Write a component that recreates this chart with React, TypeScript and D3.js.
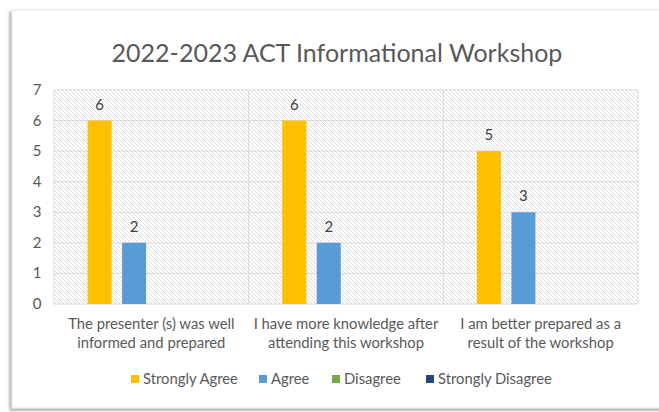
import React from "react";
import * as d3 from "d3";

const categories: string[][] = [
  ["The presenter (s) was well", "informed and prepared"],
  ["I have more knowledge after", "attending this workshop"],
  ["I am better prepared as a", "result of the workshop"],
];
const seriesNames = ["Strongly Agree", "Agree", "Disagree", "Strongly Disagree"];
const stronglyAgree = [6, 6, 5];
const agree = [2, 2, 3];
const disagree = [0, 0, 0];
const stronglyDisagree = [0, 0, 0];
const seriesColors = ["#FFC000", "#5B9BD5", "#70AD47", "#264478"];
const yTicks = [0, 1, 2, 3, 4, 5, 6, 7];
const title = "2022-2023 ACT Informational Workshop";

const W = 659;
const H = 412;
const FONT = "Lato, 'Open Sans', sans-serif";

export default function App() {
  const values = [stronglyAgree, agree, disagree, stronglyDisagree];
  const plot = { left: 54, right: 638, top: 90, bottom: 304 };
  const x = d3
    .scaleBand<number>()
    .domain(categories.map((_, i) => i))
    .range([plot.left, plot.right])
    .padding(0);
  const xs = d3
    .scaleBand<number>()
    .domain(seriesNames.map((_, i) => i))
    .range([0, x.bandwidth()])
    .paddingInner(0.304)
    .paddingOuter(0.974);
  const y = d3.scaleLinear().domain([0, 7]).range([plot.bottom, plot.top]);

  const legendX = [131, 259, 332, 426];

  return (
    <svg
      width={W}
      height={H}
      style={{ position: "absolute", left: 0, top: 0, background: "#fff" }}
      fontFamily={FONT}
    >
      <defs>
        <pattern id="hatch" width="4" height="4" patternUnits="userSpaceOnUse">
          <rect width="4" height="4" fill="#ffffff" />
          <path d="M-1,-1 L5,5 M-1,3 L1,5 M3,-1 L5,1" stroke="#d6d6d6" strokeWidth="0.85" />
        </pattern>
        <filter id="shadow" x="-5%" y="-5%" width="110%" height="110%">
          <feDropShadow dx="-2" dy="2" stdDeviation="1.6" floodColor="#000" floodOpacity="0.35" />
        </filter>
      </defs>
      <rect x={12} y={10} width={652} height={398} fill="#fff" stroke="#e3e3e3" filter="url(#shadow)" />
      <text x={337} y={62} textAnchor="middle" fontSize={25} fill="#595959">
        {title}
      </text>
      <rect
        x={plot.left}
        y={plot.top}
        width={plot.right - plot.left}
        height={plot.bottom - plot.top}
        fill="url(#hatch)"
      />
      {yTicks.map((t) => (
        <g key={t}>
          <line x1={plot.left} x2={plot.right} y1={y(t)} y2={y(t)} stroke="#d9d9d9" strokeWidth={1} />
          <text x={37} y={y(t) + 5} textAnchor="middle" fontSize={15} fill="#595959">
            {t}
          </text>
        </g>
      ))}
      {categories.map((_, i) => (
        <line
          key={i}
          x1={x(i)!}
          x2={x(i)!}
          y1={plot.top}
          y2={plot.bottom}
          stroke="#d9d9d9"
        />
      ))}
      <line x1={plot.right} x2={plot.right} y1={plot.top} y2={plot.bottom} stroke="#d9d9d9" />
      {values.map((vals, s) =>
        vals.map((v, i) =>
          v > 0 ? (
            <g key={`${s}-${i}`}>
              <rect
                x={x(i)! + xs(s)!}
                y={y(v)}
                width={xs.bandwidth()}
                height={y(0) - y(v)}
                fill={seriesColors[s]}
              />
              <text
                x={x(i)! + xs(s)! + xs.bandwidth() / 2}
                y={y(v) - 11}
                textAnchor="middle"
                fontSize={15}
                fill="#404040"
              >
                {v}
              </text>
            </g>
          ) : null
        )
      )}
      {categories.map((lines, i) => (
        <text key={i} textAnchor="middle" fontSize={14.8} fill="#595959">
          {lines.map((l, k) => (
            <tspan key={k} x={x(i)! + x.bandwidth() / 2} y={329 + k * 19}>
              {l}
            </tspan>
          ))}
        </text>
      ))}
      {seriesNames.map((n, s) => (
        <g key={n}>
          <rect x={legendX[s]} y={375} width={8} height={8} fill={seriesColors[s]} />
          <text x={legendX[s] + 12} y={384} fontSize={14.8} fill="#595959">
            {n}
          </text>
        </g>
      ))}
    </svg>
  );
}
